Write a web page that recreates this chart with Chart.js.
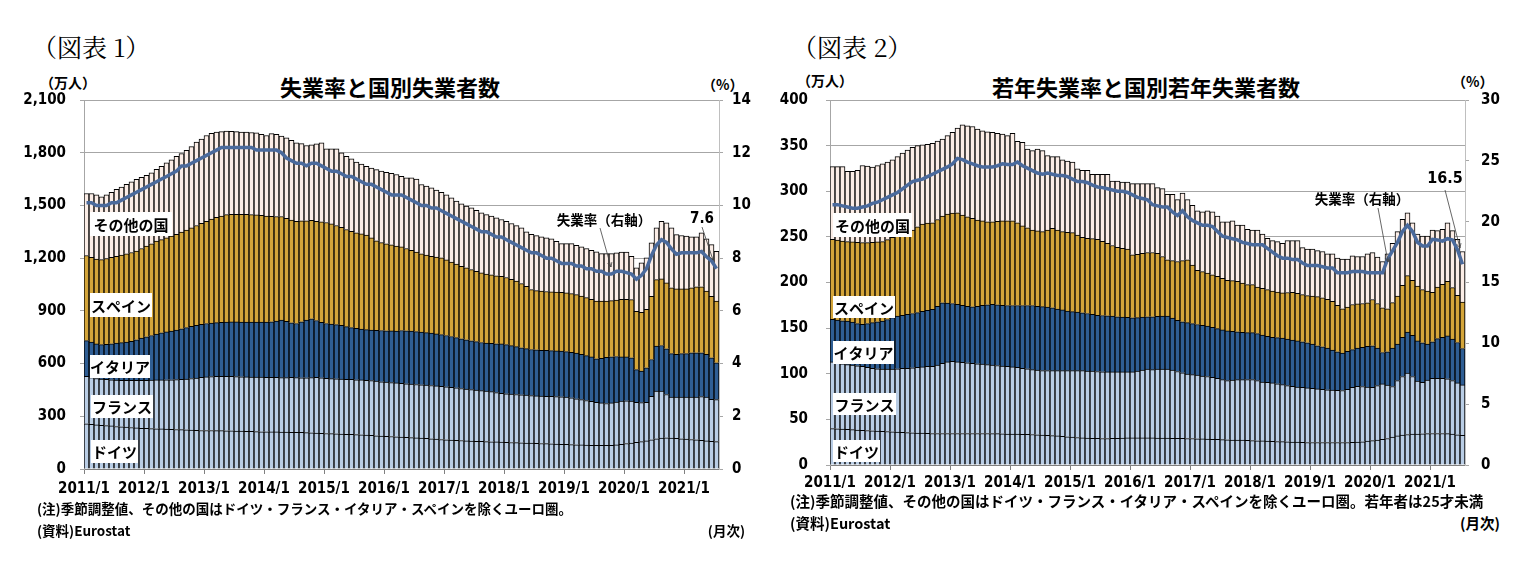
<!DOCTYPE html>
<html lang="ja">
<head>
<meta charset="utf-8">
<script src="https://cdn.jsdelivr.net/npm/chart.js@4.4.1/dist/chart.umd.min.js"></script>
<style>
body{margin:0;background:#fff;width:1521px;height:586px;position:relative;overflow:hidden;font-family:'Noto Sans CJK JP',sans-serif;color:#000}
.t{position:absolute;white-space:nowrap;line-height:1}
.fig{font-family:'Noto Serif CJK JP','Noto Sans CJK JP',serif;font-size:25px;font-weight:400}
.ttl{font-size:22px;font-weight:700;transform:translateX(-50%)}
.unit{font-size:14px;font-weight:700}
.foot{font-size:13.5px;font-weight:700}
canvas{position:absolute}
</style>
</head>
<body>
<div class="t fig" style="left:32px;top:34px">（図表 1）</div>
<div class="t fig" style="left:792px;top:34px">（図表 2）</div>
<div class="t ttl" style="left:390px;top:75px">失業率と国別失業者数</div>
<div class="t ttl" style="left:1146px;top:75px">若年失業率と国別若年失業者数</div>
<div class="t unit" style="left:40px;top:75px">（万人）</div>
<div class="t unit" style="left:702px;top:77px">（%）</div>
<div class="t unit" style="left:797px;top:73px">（万人）</div>
<div class="t unit" style="left:1452px;top:74px">（%）</div>

<canvas id="chart1" width="760" height="440" style="left:0;top:70px"></canvas>
<canvas id="chart2" width="761" height="440" style="left:760px;top:70px"></canvas>

<div class="t foot" style="left:37px;top:502px">(注)季節調整値、その他の国はドイツ・フランス・イタリア・スペインを除くユーロ圏。</div>
<div class="t foot" style="left:37px;top:524px">(資料)Eurostat</div>
<div class="t foot" style="right:776px;top:524px">(月次)</div>
<div class="t foot" style="left:790px;top:494px;font-size:14.5px">(注)季節調整値、その他の国はドイツ・フランス・イタリア・スペインを除くユーロ圏。若年者は25才未満</div>
<div class="t foot" style="left:790px;top:516px;font-size:14.5px">(資料)Eurostat</div>
<div class="t foot" style="right:21px;top:516px;font-size:14.5px">(月次)</div>

<script>
'use strict';
// =============== data ===============
const years = [2011, 2012, 2013, 2014, 2015, 2016, 2017, 2018, 2019, 2020, 2021];
const lastMonth = 7; // 2021/7
const months = [];
years.forEach(y => {
    for (let m = 1; m <= 12; m++) {
        if (y === 2021 && m > lastMonth) break;
        months.push(y + '/' + m);
    }
});

// 図表1: 失業者数（万人）, 失業率（%）
const germany1 = [
    257,254,251,249,247,245,242,240,238,236,234,232,
    231,230,229,228,227,226,225,224,223,222,220,219,
    219,219,218,218,217,217,216,216,215,214,213,212,
    212,211,211,210,210,209,209,208,207,206,204,203,
    202,201,200,199,198,197,196,195,193,191,189,187,
    186,185,183,182,180,179,177,176,174,172,170,168,
    166,165,163,162,160,159,158,157,156,155,154,153,
    152,151,150,149,148,147,146,145,144,143,142,141,
    140,139,138,137,136,135,134,134,134,135,137,140,
    145,148,152,156,160,166,172,176,178,176,174,172,
    170,168,166,163,160,158,156];
const france1 = [
    271,266,264,263,263,263,264,265,266,268,270,273,
    274,276,278,279,281,282,284,286,289,293,298,303,
    305,307,309,310,311,310,310,309,309,309,310,311,
    310,311,310,310,310,312,311,311,312,314,317,316,
    314,313,313,313,313,313,312,312,312,312,311,309,
    308,307,307,305,305,304,304,303,303,303,303,303,
    302,300,299,296,295,293,291,289,287,285,281,277,
    276,275,274,273,272,271,270,270,270,270,270,270,
    269,266,262,258,254,250,246,242,239,241,244,246,
    243,238,228,222,220,248,271,267,246,233,235,237,
    239,242,244,249,249,239,239];
const italy1 = [
    203,202,197,196,200,205,210,214,218,223,231,240,
    247,254,261,268,272,277,281,288,293,297,300,301,
    304,304,306,307,308,310,311,311,312,313,313,313,
    314,316,321,327,320,311,308,319,329,335,324,316,
    312,311,309,306,299,295,292,289,288,287,289,292,
    293,294,295,301,302,302,301,300,299,298,296,294,
    292,289,286,283,280,278,276,274,274,275,278,282,
    280,276,272,268,265,262,262,261,261,261,260,260,
    259,259,260,257,255,253,247,254,262,263,259,252,
    250,247,186,179,196,209,256,260,260,248,243,248,
    248,251,251,249,243,236,209];
const spain1 = [
    484,483,483,484,488,492,495,499,503,505,505,510,
    516,522,529,530,535,540,545,550,555,560,568,575,
    582,593,599,605,612,613,613,614,613,612,610,607,
    604,600,595,590,587,585,582,575,565,560,565,572,
    575,570,564,557,553,548,544,542,538,525,510,500,
    495,490,484,476,468,460,452,446,441,438,437,437,
    430,424,418,413,410,405,400,396,393,390,387,385,
    382,378,373,365,355,341,337,336,335,334,335,335,
    334,334,332,332,330,327,328,325,320,319,322,327,
    327,331,332,335,332,360,379,379,375,374,373,368,
    368,370,376,376,360,350,351];
const others1 = [
    353,363,365,357,362,370,380,387,395,403,408,405,
    404,403,408,417,427,435,445,447,454,463,474,480,
    488,487,485,480,475,472,470,468,468,467,467,462,
    458,471,467,458,458,453,446,439,428,430,440,449,
    419,427,436,425,417,412,402,397,392,397,405,408,
    407,406,407,402,402,412,416,394,393,389,382,373,
    370,365,359,355,352,351,347,342,338,334,330,323,
    320,317,316,317,310,314,313,309,305,302,288,277,
    281,285,281,280,280,280,281,271,271,268,268,269,
    269,247,247,281,294,304,294,328,342,341,309,304,
    300,290,284,307,298,294,284];
const rate1 = [
    10.1,10.1,10.0,10.0,10.0,10.1,10.1,10.2,10.3,10.4,10.5,10.6,
    10.7,10.8,10.9,11.0,11.1,11.2,11.3,11.5,11.5,11.6,11.7,11.8,
    11.9,12.0,12.1,12.2,12.2,12.2,12.2,12.2,12.2,12.2,12.1,12.1,
    12.1,12.1,12.1,12.0,11.8,11.7,11.6,11.6,11.5,11.6,11.6,11.5,
    11.4,11.3,11.3,11.2,11.1,11.1,11.0,10.9,10.8,10.8,10.7,10.6,
    10.5,10.4,10.4,10.4,10.3,10.2,10.1,10.0,10.0,9.9,9.9,9.8,
    9.7,9.6,9.5,9.4,9.3,9.2,9.1,9.0,9.0,8.9,8.8,8.8,
    8.7,8.6,8.5,8.4,8.3,8.2,8.2,8.1,8.0,8.0,7.9,7.8,
    7.8,7.8,7.7,7.7,7.6,7.6,7.5,7.5,7.4,7.4,7.5,7.5,
    7.45,7.4,7.2,7.35,7.6,8.1,8.5,8.7,8.6,8.35,8.15,8.2,
    8.2,8.2,8.2,8.25,8.05,7.9,7.6];

// 図表2: 若年失業者数（万人）, 若年失業率（%）
const germany2 = [
    39.9,39.6,39.3,39.0,38.7,38.4,38.1,37.8,37.5,37.2,37.0,36.7,
    36.4,36.1,35.8,35.5,35.3,35.1,34.9,34.7,34.5,34.5,34.5,34.5,
    34.5,34.5,34.5,34.5,34.5,34.5,34.5,34.5,34.4,34.3,34.2,34.0,
    33.9,33.8,33.7,33.6,33.4,33.1,32.8,32.5,32.2,31.9,31.5,31.0,
    30.5,30.1,29.7,29.5,29.3,29.1,29.0,29.0,29.1,29.3,29.5,29.7,
    29.7,29.7,29.7,29.7,29.7,29.6,29.5,29.4,29.3,29.2,29.1,29.0,
    29.0,28.8,28.6,28.4,28.2,28.0,27.8,27.6,27.4,27.2,27.2,27.0,
    26.8,26.6,26.4,26.2,26.0,25.8,25.6,25.4,25.2,25.0,24.8,24.7,
    24.7,24.7,24.7,24.7,24.7,24.7,24.7,24.7,24.8,25.0,25.5,26.2,
    26.8,27.2,28.0,29.0,30.5,31.9,32.8,33.4,33.8,34.0,34.2,34.4,
    34.5,34.5,34.5,34.3,33.8,33.2,32.6];
const france2 = [
    73.1,72.4,71.7,71.0,70.8,70.4,69.9,69.2,68.5,68.3,68.0,68.3,
    68.6,69.4,70.2,70.5,71.2,71.9,72.6,73.3,73.5,75.0,77.0,78.5,
    79.0,78.5,78.0,77.5,77.0,76.5,76.1,75.5,75.1,74.7,74.3,74.0,
    73.6,73.2,72.3,71.9,71.1,70.9,70.7,71.0,71.2,71.5,71.9,72.4,
    72.9,73.3,73.7,73.5,73.5,73.4,73.2,73.0,72.9,72.7,72.5,72.3,
    72.3,73.3,74.3,75.3,74.8,75.4,75.5,75.6,74.7,73.3,71.9,70.7,
    70.0,69.7,68.9,68.6,67.8,67.0,65.7,64.9,65.6,66.3,66.3,66.6,
    66.8,65.9,64.6,64.5,64.0,63.2,62.4,61.6,61.1,60.5,60.2,59.8,
    59.3,58.7,58.3,57.8,57.3,57.1,56.9,58.3,60.2,61.3,60.5,59.3,
    58.4,59.8,60.9,58.5,55.5,60.6,64.2,67.4,63.2,58.0,56.5,58.6,
    60.5,60.5,60.5,60.2,58.7,56.8,55.2];
const italy2 = [
    46.6,46.8,47.0,47.8,47.0,46.2,46.1,48.0,50.0,51.5,52.8,54.5,
    56.5,57.7,58.0,59.0,59.5,60.0,61.0,61.5,62.5,64.5,66.2,64.5,
    63.5,63.0,62.5,62.0,61.9,63.0,64.4,65.5,66.5,66.5,66.5,66.8,
    67.3,67.8,68.8,69.3,70.3,70.0,70.0,69.5,68.9,67.6,66.6,65.3,
    64.6,64.1,63.4,63.0,62.2,61.5,61.6,61.5,61.2,60.5,60.0,59.8,
    59.4,58.5,58.0,57.5,58.0,58.0,58.2,58.2,57.0,56.0,56.0,56.3,
    56.0,55.5,55.5,55.3,55.0,54.5,54.5,54.4,53.5,52.5,52.0,51.4,
    51.4,51.5,51.5,50.3,50.0,50.6,51.0,51.0,50.7,50.5,50.0,49.5,
    48.5,47.2,46.5,45.5,44.0,42.2,41.0,41.5,41.5,41.7,43.0,44.5,
    45.4,41.0,34.4,36.5,42.0,39.9,43.0,45.0,45.0,44.0,43.3,39.4,
    40.0,43.5,45.0,47.0,45.5,44.2,39.9];
const spain2 = [
    87.8,87.7,87.5,87.0,88.0,89.0,89.6,88.7,88.0,87.5,87.0,87.5,
    88.0,88.8,90.0,91.0,91.5,94.0,95.5,95.5,95.0,95.0,95.1,97.5,
    99.0,100.4,99.0,98.0,96.8,94.5,92.5,91.1,90.6,91.5,92.5,92.9,
    92.9,90.7,87.2,85.2,82.7,82.5,82.2,84.5,87.0,86.5,85.7,86.3,
    86.6,84.5,82.7,82.5,83.0,83.4,81.2,79.5,77.3,76.1,75.5,74.7,
    68.9,69.5,70.1,70.4,70.4,69.0,65.3,61.7,63.0,64.5,67.0,68.9,
    64.0,59.3,59.0,58.1,57.5,57.2,56.5,55.5,55.5,55.3,54.0,52.7,
    52.7,51.0,51.0,51.2,50.5,49.9,49.6,51.0,52.3,52.0,51.8,51.7,
    52.5,53.9,53.7,53.5,53.5,51.0,48.6,48.5,49.4,48.5,48.0,47.7,
    50.8,49.0,49.0,47.2,50.0,52.6,57.0,61.7,60.4,60.0,58.2,58.1,
    54.3,56.6,58.0,59.8,56.4,51.8,50.8];
const others2 = [
    79.6,80.5,81.5,76.9,77.2,78.8,84.5,83.8,82.4,83.5,85.2,85.0,
    84.9,86.0,87.7,89.0,90.7,89.0,87.0,86.5,87.0,86.0,84.5,86.0,
    88.5,92.8,98.8,99.8,100.8,99.5,98.8,98.4,97.9,96.5,95.2,93.2,
    95.7,89.2,91.6,86.3,87.1,89.8,88.9,81.6,78.7,80.5,78.7,78.0,
    77.3,72.6,73.3,74.3,70.5,71.1,73.5,75.5,70.7,72.6,72.5,73.5,
    78.0,77.3,76.2,75.4,75.4,72.0,74.4,71.8,72.7,67.9,74.1,66.0,
    65.7,65.2,65.5,68.1,69.0,66.1,62.1,64.2,65.7,61.7,63.5,60.5,
    59.8,62.5,59.7,56.3,55.4,55.3,54.4,56.9,56.6,57.9,51.5,50.8,
    51.5,50.5,50.8,49.9,51.9,51.7,54.4,52.6,53.3,52.0,51.5,53.7,
    51.4,50.8,50.7,60.2,65.0,70.7,72.1,68.9,63.1,57.2,58.8,60.5,
    68.2,61.7,60.2,64.2,62.4,61.4,55.5];
const youthRate2 = [
    21.4,21.4,21.3,21.2,21.1,21.1,21.2,21.3,21.5,21.6,21.8,22.0,
    22.2,22.4,22.7,23.0,23.3,23.4,23.5,23.7,23.9,24.1,24.3,24.5,
    24.75,25.2,25.1,24.9,24.75,24.6,24.5,24.5,24.5,24.6,24.75,24.7,
    24.7,24.9,24.6,24.4,24.2,24.0,23.9,24.0,23.9,23.8,23.8,23.7,
    23.5,23.3,23.3,23.2,23.0,22.85,22.8,22.7,22.6,22.5,22.5,22.4,
    22.2,22.0,21.9,21.8,21.4,21.3,21.2,21.2,20.8,20.5,20.9,20.4,
    20.1,19.9,19.7,19.7,19.6,19.2,18.8,18.7,18.6,18.5,18.3,18.2,
    18.1,18.1,18.1,17.8,17.5,17.2,17.0,17.0,16.9,16.9,16.6,16.4,
    16.4,16.4,16.3,16.2,16.2,15.8,15.8,15.8,15.9,15.9,15.9,15.8,
    15.8,15.8,15.8,16.9,17.6,18.3,19.2,19.7,19.2,18.3,18.0,18.0,
    18.55,18.5,18.4,18.6,18.5,17.7,16.5];

const seriesNames = ['ドイツ', 'フランス', 'イタリア', 'スペイン', 'その他の国'];

// =============== colours ===============
const colors = ['#B9CDE5', '#B9CDE5', '#2F5E94', '#D4A53A', '#FBEDE6'];
const lineColor = '#4A6A9C';
const gridColor = '#A6A6A6';
const tickFont = "'Liberation Sans Narrow', 'DejaVu Sans Condensed', sans-serif";
const jpFont = "'Noto Sans CJK JP', sans-serif";

// =============== labels inside the plot ===============
function notesPlugin(boxes, notes) {
    return {
        id: 'notes',
        afterDatasetsDraw(chart) {
            const ctx = chart.ctx;
            const a = chart.chartArea;
            ctx.save();
            ctx.textAlign = 'center';
            ctx.textBaseline = 'middle';
            ctx.font = 'bold 15px ' + jpFont;
            boxes.forEach(b => {
                ctx.fillStyle = '#fff';
                ctx.fillRect(a.left + b.x, a.top + b.y, b.w, b.h);
                ctx.fillStyle = '#000';
                ctx.fillText(b.text, a.left + b.x + b.w / 2, a.top + b.y + b.h / 2 + 1);
            });
            notes.forEach(n => {
                const x0 = a.left + n.from[0], y0 = a.top + n.from[1];
                const x1 = a.left + n.to[0], y1 = a.top + n.to[1];
                ctx.strokeStyle = '#404040';
                ctx.lineWidth = 0.8;
                ctx.beginPath();
                ctx.moveTo(x0, y0);
                ctx.lineTo(x1, y1);
                const ang = Math.atan2(y1 - y0, x1 - x0);
                ctx.moveTo(x1 - 5 * Math.cos(ang - 0.45), y1 - 5 * Math.sin(ang - 0.45));
                ctx.lineTo(x1, y1);
                ctx.lineTo(x1 - 5 * Math.cos(ang + 0.45), y1 - 5 * Math.sin(ang + 0.45));
                ctx.stroke();
                ctx.fillStyle = '#000';
                ctx.font = n.font;
                ctx.fillText(n.text, a.left + n.at[0], a.top + n.at[1]);
            });
            ctx.restore();
        }
    };
}

// =============== chart builder ===============
function drawChart(id, o) {
    const barSets = o.series.map((d, i) => ({
        label: seriesNames[i],
        data: d,
        backgroundColor: colors[i],
        borderColor: '#000',
        borderWidth: 1,
        barPercentage: 1,
        categoryPercentage: 1,
        order: 1
    }));
    const tf = { family: tickFont, size: 15, weight: 'bold' };
    const chart = new Chart(document.getElementById(id), {
        type: 'bar',
        data: {
            labels: months,
            datasets: [{
                type: 'line',
                label: '失業率',
                data: o.rate,
                yAxisID: 'y1',
                borderColor: lineColor,
                borderWidth: 3.5,
                pointRadius: 0,
                tension: 0,
                order: 0
            }].concat(barSets)
        },
        options: {
            responsive: false,
            animation: false,
            layout: { padding: { top: o.area.top, left: 0, right: 0, bottom: 0 } },
            plugins: { legend: { display: false }, tooltip: { enabled: false } },
            scales: {
                x: {
                    stacked: true,
                    offset: true,
                    border: { color: '#808080' },
                    grid: {
                        offset: true,
                        drawOnChartArea: false,
                        tickLength: 5,
                        color: c => (c.index % 12 === 0 ? '#808080' : 'rgba(0,0,0,0)')
                    },
                    ticks: {
                        autoSkip: false,
                        maxRotation: 0,
                        padding: o.xPad,
                        labelOffset: -2.5,
                        color: '#000',
                        font: tf,
                        callback: (v, i) => (i % 12 === 0 ? months[i] : '')
                    }
                },
                y: {
                    stacked: true,
                    min: 0,
                    max: o.yMax,
                    border: { color: gridColor },
                    grid: { color: gridColor, tickLength: 4 },
                    ticks: {
                        stepSize: o.yStep,
                        padding: o.yPad,
                        color: '#000',
                        font: tf,
                        callback: v => v.toLocaleString('en-US')
                    }
                },
                y1: {
                    position: 'right',
                    min: 0,
                    max: o.rMax,
                    border: { color: '#BFBFBF' },
                    grid: { drawOnChartArea: false, color: gridColor, tickLength: 4 },
                    ticks: {
                        stepSize: o.rStep,
                        padding: o.rPad,
                        color: '#000',
                        font: tf
                    }
                }
            }
        },
        plugins: [notesPlugin(o.boxes, o.notes)]
    });
    // second pass: put the plot area where the reference has it
    const a = chart.chartArea;
    const p = o.area;
    const pad = chart.options.layout.padding;
    chart.options.layout.padding = {
        left: p.left - a.left,
        top: pad.top + (p.top - a.top),
        right: a.right - p.right,
        bottom: a.bottom - p.bottom
    };
    chart.update();
    return chart;
}

// =============== 図表1 ===============
drawChart('chart1', {
    series: [germany1, france1, italy1, spain1, others1],
    rate: rate1,
    yMax: 2100, yStep: 300, rMax: 14, rStep: 2,
    area: { left: 84, right: 719, top: 30, bottom: 399 },
    yPad: 14, rPad: 9, xPad: 6,
    boxes: [
        { text: 'その他の国', x: 6, y: 112, w: 82, h: 24 },
        { text: 'スペイン', x: 6, y: 193, w: 62, h: 24 },
        { text: 'イタリア', x: 6, y: 255, w: 60, h: 23 },
        { text: 'フランス', x: 7, y: 295, w: 62, h: 23 },
        { text: 'ドイツ', x: 7, y: 340, w: 47, h: 23 }
    ],
    notes: [
        { text: '失業率（右軸）', at: [520, 120], from: [516, 128], to: [527, 167], font: 'bold 13.5px ' + jpFont },
        { text: '7.6', at: [618, 119], from: [618, 127], to: [629, 160], font: 'bold 15px ' + tickFont }
    ]
});

// =============== 図表2 ===============
drawChart('chart2', {
    series: [germany2, france2, italy2, spain2, others2],
    rate: youthRate2,
    yMax: 400, yStep: 50, rMax: 30, rStep: 5,
    area: { left: 70, right: 705, top: 30, bottom: 395 },
    yPad: 18, rPad: 12, xPad: 4,
    boxes: [
        { text: 'その他の国', x: 3, y: 113, w: 79, h: 24 },
        { text: 'スペイン', x: 3, y: 196, w: 62, h: 22 },
        { text: 'イタリア', x: 3, y: 241, w: 61, h: 23 },
        { text: 'フランス', x: 3, y: 293, w: 63, h: 22 },
        { text: 'ドイツ', x: 3, y: 340, w: 47, h: 22 }
    ],
    notes: [
        { text: '失業率（右軸）', at: [532, 99], from: [548, 108], to: [558, 162], font: 'bold 13.5px ' + jpFont },
        { text: '16.5', at: [615, 79], from: [615, 90], to: [630, 148], font: 'bold 16px ' + tickFont }
    ]
});
</script>
</body>
</html>
